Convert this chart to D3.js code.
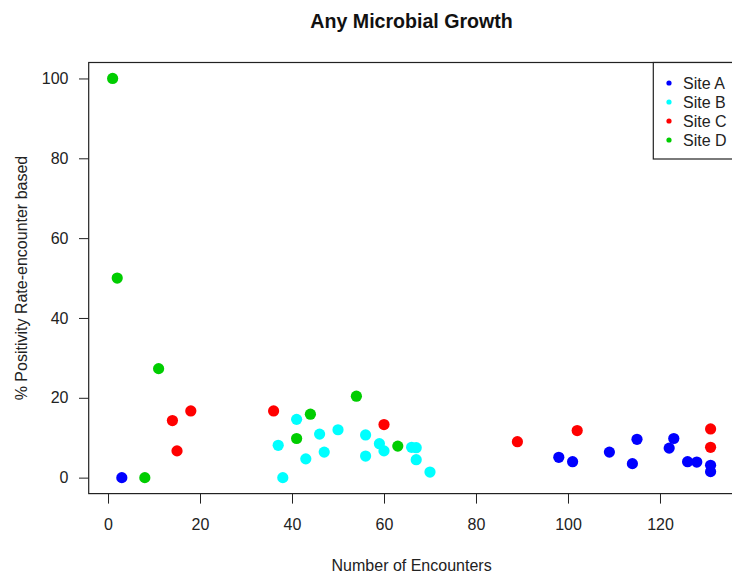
<!DOCTYPE html>
<html>
<head>
<meta charset="utf-8">
<script src="https://cdn.jsdelivr.net/npm/d3@7"></script>
<style>
  html, body { margin: 0; padding: 0; background: white; }
  svg { display: block; font-family: 'Liberation Sans', Arial, sans-serif; }
</style>
</head>
<body>
<svg id="chart" width="732" height="574"></svg>
<script>
// Values (encounters, % positivity)
const siteNames = ['Site A', 'Site B', 'Site C', 'Site D'];
const siteColors = ['#0000ff', '#00ffff', '#ff0000', '#00cd00'];

const siteA_x = [3, 98, 101, 109, 114, 115, 122, 123, 126, 128, 131, 131];
const siteA_y = [0, 5.1, 4.0, 6.4, 3.5, 9.6, 7.4, 9.8, 4.0, 3.9, 3.1, 1.5];

const siteB_x = [37, 38, 41, 43, 46, 47, 50, 56, 56, 59, 60, 66, 67, 67, 70];
const siteB_y = [8.1, 0, 14.6, 4.7, 10.9, 6.4, 12, 10.7, 5.4, 8.5, 6.7, 7.6, 7.5, 4.5, 1.4];

const siteC_x = [14, 15, 18, 36, 60, 89, 102, 131, 131];
const siteC_y = [14.3, 6.7, 16.7, 16.7, 13.3, 9.0, 11.8, 12.2, 7.6];

const siteD_x = [1, 2, 8, 11, 41, 44, 54, 63];
const siteD_y = [100, 50, 0, 27.3, 9.8, 15.9, 20.4, 7.9];

const xTicks = [0, 20, 40, 60, 80, 100, 120];
const yTicks = [0, 20, 40, 60, 80, 100];

const title = 'Any Microbial Growth';
const xTitle = 'Number of Encounters';
const yTitle = '% Positivity Rate-encounter based';

// Plot region (the right edge falls just outside the window, like the reference)
const plot = { left: 88.7, right: 734.5, top: 62.5, bottom: 493.6 };

const series = [
  { x: siteA_x, y: siteA_y },
  { x: siteB_x, y: siteB_y },
  { x: siteC_x, y: siteC_y },
  { x: siteD_x, y: siteD_y }
];

// R style 4% padding around the data range
function padded(ext) {
  const p = (ext[1] - ext[0]) * 0.04;
  return [ext[0] - p, ext[1] + p];
}

const allX = [].concat(siteA_x, siteB_x, siteC_x, siteD_x);
const allY = [].concat(siteA_y, siteB_y, siteC_y, siteD_y);

const x = d3.scaleLinear().domain(padded(d3.extent(allX))).range([plot.left, plot.right]);
const y = d3.scaleLinear().domain(padded(d3.extent(allY))).range([plot.bottom, plot.top]);

const svg = d3.select('#chart');
svg.append('rect').attr('width', 732).attr('height', 574).attr('fill', 'white');

// Axes
const xAxis = svg.append('g')
  .attr('transform', `translate(0, ${plot.bottom})`)
  .call(d3.axisBottom(x).tickValues(xTicks).tickSize(10).tickPadding(15).tickFormat(d3.format('d')));

const yAxis = svg.append('g')
  .attr('transform', `translate(${plot.left}, 0)`)
  .call(d3.axisLeft(y).tickValues(yTicks).tickSize(9.7).tickPadding(10.5).tickFormat(d3.format('d')));

[xAxis, yAxis].forEach(function(g) {
  g.select('.domain').remove();
  g.selectAll('line').attr('stroke', '#222');
  g.selectAll('text').attr('fill', '#222').style('font-size', '16px');
});

// Points
series.forEach(function(s, i) {
  svg.append('g')
    .selectAll('circle')
    .data(s.x.map((v, j) => [v, s.y[j]]))
    .join('circle')
    .attr('cx', d => x(d[0]))
    .attr('cy', d => y(d[1]))
    .attr('r', 5.6)
    .attr('fill', siteColors[i]);
});

// Plot frame
svg.append('rect')
  .attr('x', plot.left)
  .attr('y', plot.top)
  .attr('width', plot.right - plot.left)
  .attr('height', plot.bottom - plot.top)
  .attr('fill', 'none')
  .attr('stroke', '#222')
  .attr('stroke-width', 1.2);

// Legend, top right
const legend = svg.append('g');
legend.append('rect')
  .attr('x', 653.3)
  .attr('y', plot.top)
  .attr('width', plot.right - 653.3)
  .attr('height', 159 - plot.top)
  .attr('fill', 'white')
  .attr('stroke', '#222')
  .attr('stroke-width', 1.2);

siteNames.forEach(function(name, i) {
  const ly = 83 + i * 19;
  legend.append('circle')
    .attr('cx', 669)
    .attr('cy', ly)
    .attr('r', 2.6)
    .attr('fill', siteColors[i]);
  legend.append('text')
    .attr('x', 683)
    .attr('y', ly)
    .attr('dy', '0.36em')
    .attr('fill', '#222')
    .style('font-size', '16px')
    .text(name);
});

// Titles
const midX = (plot.left + plot.right) / 2;
svg.append('text')
  .attr('x', midX)
  .attr('y', 28)
  .attr('text-anchor', 'middle')
  .style('font-size', '19.6px')
  .style('font-weight', 'bold')
  .attr('fill', '#111')
  .text(title);

svg.append('text')
  .attr('x', midX)
  .attr('y', 571)
  .attr('text-anchor', 'middle')
  .style('font-size', '16px')
  .attr('fill', '#222')
  .text(xTitle);

svg.append('text')
  .attr('transform', `translate(27, ${(plot.top + plot.bottom) / 2}) rotate(-90)`)
  .attr('text-anchor', 'middle')
  .style('font-size', '16px')
  .attr('fill', '#222')
  .text(yTitle);
</script>
</body>
</html>
